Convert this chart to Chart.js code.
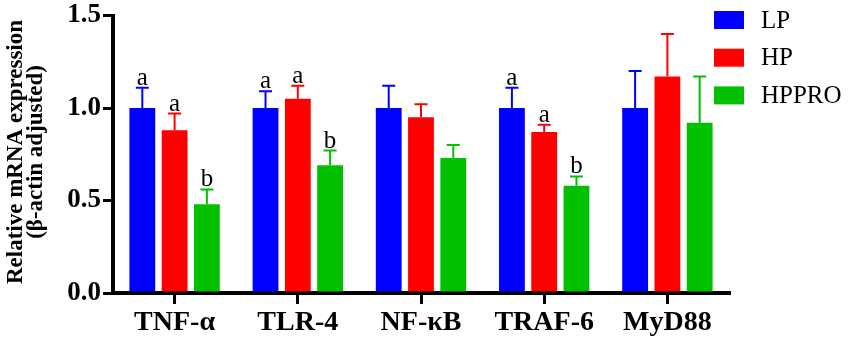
<!DOCTYPE html>
<html>
<head>
<meta charset="utf-8">
<script src="https://cdn.jsdelivr.net/npm/chart.js@4.4.1/dist/chart.umd.min.js"></script>
<style>
html,body{margin:0;padding:0;background:#fff;}
#wrap{width:851px;height:346px;position:relative;}
</style>
</head>
<body>
<div id="wrap"><canvas id="c" width="851" height="346"></canvas></div>
<script>
const categories = ['TNF-α', 'TLR-4', 'NF-κB', 'TRAF-6', 'MyD88'];
const seriesNames = ['LP', 'HP', 'HPPRO'];
const lpValues = [1.00, 1.00, 1.00, 1.00, 1.00];
const hpValues = [0.88, 1.05, 0.95, 0.87, 1.17];
const hpproValues = [0.48, 0.69, 0.73, 0.58, 0.92];
const lpErrors = [0.11, 0.09, 0.12, 0.11, 0.20];
const hpErrors = [0.09, 0.07, 0.07, 0.04, 0.23];
const hpproErrors = [0.08, 0.08, 0.07, 0.05, 0.25];
const lpLetters = ['a', 'a', '', 'a', ''];
const hpLetters = ['a', 'a', '', 'a', ''];
const hpproLetters = ['b', 'b', '', 'b', ''];
const yTickValues = [0, 0.5, 1.0, 1.5];
const yTickLabels = ['0.0', '0.5', '1.0', '1.5'];
const yTitleLines = ['Relative mRNA expression', '(β-actin adjusted)'];

const colors = ['#0000FF', '#FF0000', '#00C000'];
const SERIF = '"Liberation Serif", "Times New Roman", serif';

const errorPlugin = {
  id: 'errorBars',
  afterDatasetsDraw(chart) {
    const ctx = chart.ctx;
    const yScale = chart.scales.y;
    chart.data.datasets.forEach((ds, i) => {
      const meta = chart.getDatasetMeta(i);
      meta.data.forEach((bar, j) => {
        const top = ds.data[j] + ds.errors[j];
        const yTop = yScale.getPixelForValue(top);
        ctx.save();
        ctx.strokeStyle = ds.backgroundColor;
        ctx.lineWidth = 2;
        ctx.beginPath();
        ctx.moveTo(bar.x, bar.y);
        ctx.lineTo(bar.x, yTop);
        ctx.moveTo(bar.x - 6.5, yTop);
        ctx.lineTo(bar.x + 6.5, yTop);
        ctx.stroke();
        const letter = ds.letters[j];
        if (letter) {
          ctx.fillStyle = '#000';
          ctx.font = '25px ' + SERIF;
          ctx.textAlign = 'center';
          ctx.textBaseline = 'alphabetic';
          ctx.fillText(letter, bar.x, yTop - 3);
        }
        ctx.restore();
      });
    });
  }
};

const legendPlugin = {
  id: 'sideLegend',
  afterDraw(chart) {
    const ctx = chart.ctx;
    ctx.save();
    chart.data.datasets.forEach((ds, i) => {
      const y = 11 + i * 37.7;
      ctx.fillStyle = ds.backgroundColor;
      ctx.fillRect(714, y, 30, 18);
      ctx.fillStyle = '#000';
      ctx.font = '25px ' + SERIF;
      ctx.textAlign = 'left';
      ctx.textBaseline = 'middle';
      ctx.fillText(ds.label, 761, y + 10);
    });
    ctx.restore();
  }
};

const yTitlePlugin = {
  id: 'yTitle',
  afterDraw(chart) {
    const ctx = chart.ctx;
    ctx.save();
    ctx.fillStyle = '#000';
    ctx.font = 'bold 23px ' + SERIF;
    ctx.textAlign = 'center';
    ctx.textBaseline = 'middle';
    const centers = [[16, 152], [36, 152]];
    yTitleLines.forEach((line, k) => {
      ctx.save();
      ctx.translate(centers[k][0], centers[k][1]);
      ctx.rotate(-Math.PI / 2);
      ctx.fillText(line, 0, 0);
      ctx.restore();
    });
    ctx.restore();
  }
};

new Chart(document.getElementById('c'), {
  type: 'bar',
  data: {
    labels: categories,
    datasets: [
      { label: seriesNames[0], data: lpValues, errors: lpErrors, letters: lpLetters, backgroundColor: colors[0] },
      { label: seriesNames[1], data: hpValues, errors: hpErrors, letters: hpLetters, backgroundColor: colors[1] },
      { label: seriesNames[2], data: hpproValues, errors: hpproErrors, letters: hpproLetters, backgroundColor: colors[2] }
    ]
  },
  options: {
    responsive: false,
    animation: false,
    layout: { padding: { left: 0, right: 122, top: 15, bottom: 0 } },
    datasets: { bar: { categoryPercentage: 0.786, barPercentage: 0.8, borderWidth: 0 } },
    plugins: { legend: { display: false }, tooltip: { enabled: false } },
    scales: {
      x: {
        afterFit(scale) { scale.height = 53; },
        grid: { display: true, drawOnChartArea: false, drawTicks: true, tickLength: 11, lineWidth: 3, color: '#000', offset: false },
        border: { display: true, width: 4, color: '#000' },
        ticks: { color: '#000', padding: 3, font: { family: SERIF, size: 28, weight: 'bold', lineHeight: 1.1 } }
      },
      y: {
        min: 0, max: 1.5,
        afterFit(scale) { scale.width = 113; },
        afterBuildTicks(scale) { scale.ticks = yTickValues.map(v => ({ value: v })); },
        grid: { display: true, drawOnChartArea: false, drawTicks: true, tickLength: 10, lineWidth: 3, color: '#000' },
        border: { display: true, width: 4, color: '#000' },
        ticks: {
          color: '#000', padding: 2,
          font: { family: SERIF, size: 27, weight: 'bold', lineHeight: 1 },
          callback(value, index) { return yTickLabels[index]; }
        }
      }
    }
  },
  plugins: [errorPlugin, legendPlugin, yTitlePlugin]
});
</script>
</body>
</html>
